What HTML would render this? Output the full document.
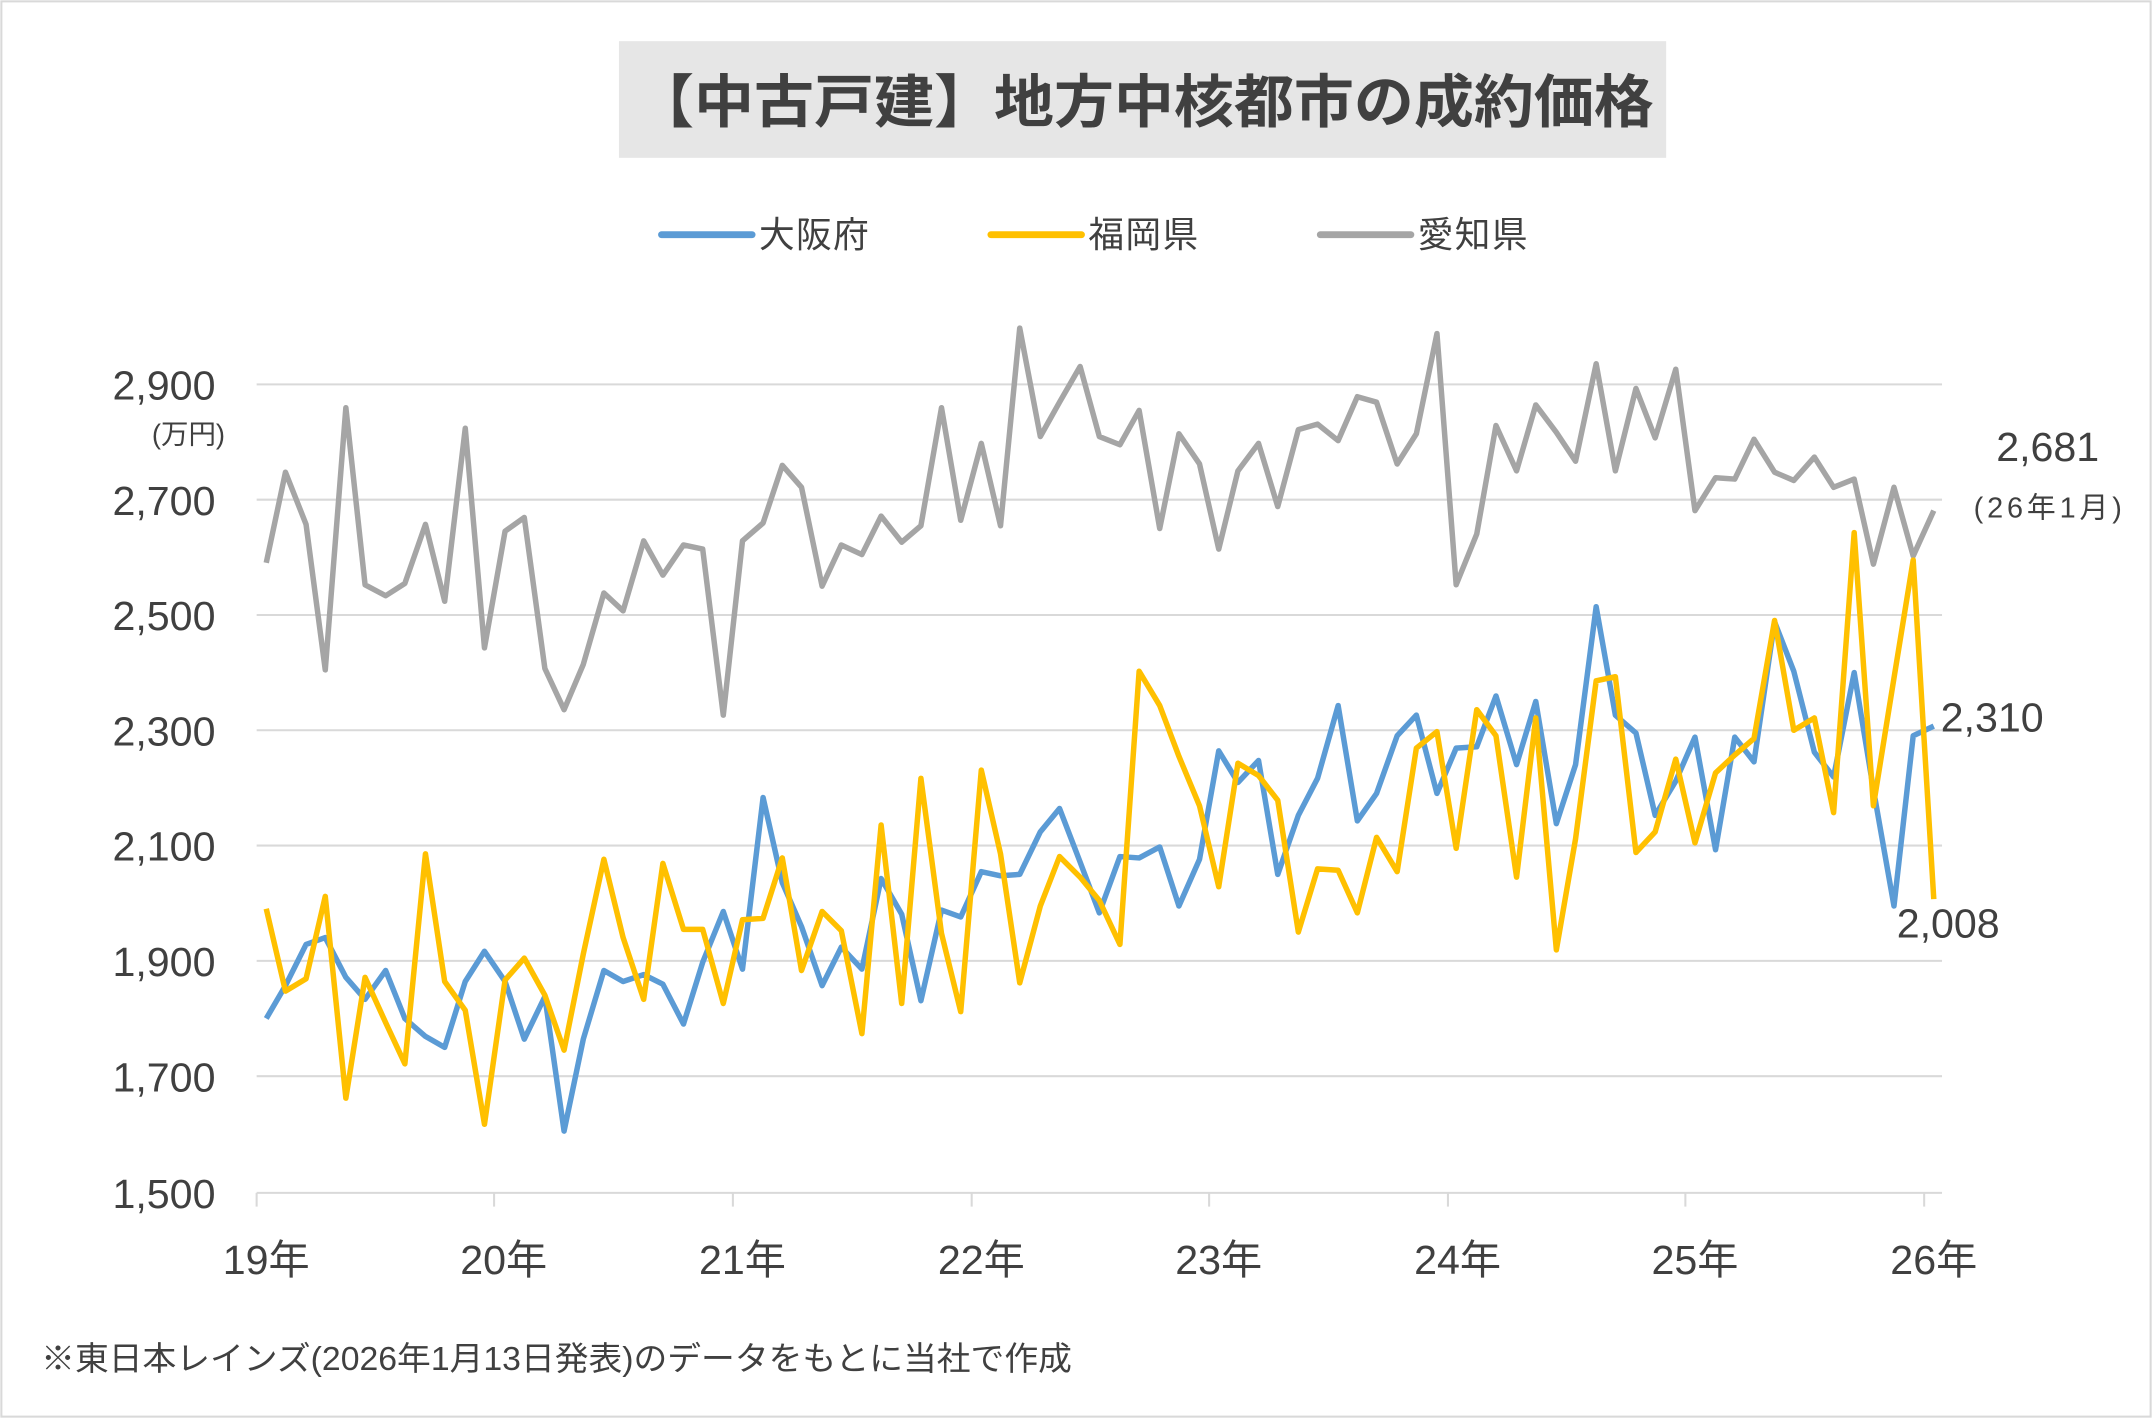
<!DOCTYPE html>
<html><head><meta charset="utf-8"><style>
html,body{margin:0;padding:0;background:#fff}
svg{display:block}
text{font-family:"Liberation Sans","Noto Sans CJK JP",sans-serif}
</style></head><body>
<svg width="2152" height="1418" viewBox="0 0 1568 1033" preserveAspectRatio="none" xmlns="http://www.w3.org/2000/svg">
<rect x="1" y="1" width="1566" height="1031" fill="#fff" stroke="#d9d9d9" stroke-width="1.5"/>
<rect x="451" y="30" width="763" height="85" fill="#e6e6e6"/>
<text x="462" y="89" font-size="42" font-weight="bold" fill="#404040" textLength="743" lengthAdjust="spacingAndGlyphs">【中古戸建】地方中核都市の成約価格</text>
<g font-size="26" fill="#404040">
<line x1="482" y1="171" x2="548" y2="171" stroke="#5b9bd5" stroke-width="5" stroke-linecap="round"/><text x="553" y="180" textLength="80">大阪府</text>
<line x1="722" y1="171" x2="788" y2="171" stroke="#ffc000" stroke-width="5" stroke-linecap="round"/><text x="793" y="180" textLength="80">福岡県</text>
<line x1="962" y1="171" x2="1028" y2="171" stroke="#a5a5a5" stroke-width="5" stroke-linecap="round"/><text x="1033" y="180" textLength="80">愛知県</text>
</g>
<g stroke="#d9d9d9" stroke-width="1.5">
<line x1="187" y1="280" x2="1415" y2="280"/><line x1="187" y1="364" x2="1415" y2="364"/>
<line x1="187" y1="448" x2="1415" y2="448"/><line x1="187" y1="532" x2="1415" y2="532"/>
<line x1="187" y1="616" x2="1415" y2="616"/><line x1="187" y1="700" x2="1415" y2="700"/>
<line x1="187" y1="784" x2="1415" y2="784"/><line x1="187" y1="869" x2="1415" y2="869"/>
<line x1="187" y1="869" x2="187" y2="879"/><line x1="360" y1="869" x2="360" y2="879"/>
<line x1="534" y1="869" x2="534" y2="879"/><line x1="708" y1="869" x2="708" y2="879"/>
<line x1="881" y1="869" x2="881" y2="879"/><line x1="1055" y1="869" x2="1055" y2="879"/>
<line x1="1228" y1="869" x2="1228" y2="879"/><line x1="1402" y1="869" x2="1402" y2="879"/>
</g>
<g font-size="30" fill="#404040" text-anchor="end">
<text x="157" y="291">2,900</text><text x="157" y="375">2,700</text><text x="157" y="459">2,500</text>
<text x="157" y="543">2,300</text><text x="157" y="627">2,100</text><text x="157" y="711">1,900</text>
<text x="157" y="795">1,700</text><text x="157" y="880">1,500</text>
</g>
<text x="164" y="323" font-size="20" fill="#404040" text-anchor="end">(万円)</text>
<g font-size="30" fill="#404040" text-anchor="middle">
<text x="194" y="928">19年</text><text x="367" y="928">20年</text><text x="541" y="928">21年</text>
<text x="715" y="928">22年</text><text x="888" y="928">23年</text><text x="1062" y="928">24年</text>
<text x="1235" y="928">25年</text><text x="1409" y="928">26年</text>
</g>
<polyline fill="none" stroke="#a5a5a5" stroke-width="4" stroke-linejoin="round" points="194,410 208,344 223,382 237,488 252,297 266,426 281,434 295,425 310,382 324,438 339,312 353,472 368,387 382,377 397,487 411,517 425,484 440,432 454,445 469,394 483,419 498,397 512,400 527,521 541,394 556,381 570,339 584,355 599,427 613,397 628,404 642,376 657,395 671,383 686,297 700,379 715,323 729,383 743,239 758,318 772,293 787,267 801,318 816,324 830,299 845,385 859,316 874,338 888,400 902,343 917,323 931,369 946,313 960,309 975,321 989,289 1003,293 1018,338 1032,316 1047,243 1061,426 1076,389 1090,310 1105,343 1119,295 1134,315 1148,336 1163,265 1177,343 1192,283 1206,319 1221,269 1235,372 1250,348 1264,349 1278,320 1293,344 1307,350 1322,333 1336,355 1351,349 1365,411 1380,355 1394,405 1409,372"/>
<polyline fill="none" stroke="#5b9bd5" stroke-width="4" stroke-linejoin="round" points="194,742 208,718 223,688 237,683 252,712 266,728 281,707 295,742 310,755 324,763 339,715 353,693 368,715 382,757 397,726 411,824 425,757 440,707 454,715 469,710 483,717 498,746 512,701 527,664 541,706 556,581 570,643 584,675 599,718 613,690 628,706 642,640 657,666 671,729 686,663 700,668 715,635 729,638 743,637 758,606 772,589 787,628 801,665 816,624 830,625 845,617 859,660 874,626 888,547 902,570 917,554 931,637 946,594 960,567 975,514 989,598 1003,578 1018,536 1032,521 1047,578 1061,545 1076,544 1090,507 1105,557 1119,511 1134,600 1148,557 1163,442 1177,521 1192,534 1206,594 1221,569 1235,537 1250,619 1264,537 1278,555 1293,453 1307,489 1322,548 1336,566 1351,490 1365,575 1380,660 1394,536 1409,529"/>
<polyline fill="none" stroke="#ffc000" stroke-width="4" stroke-linejoin="round" points="194,662 208,722 223,713 237,653 252,800 266,712 281,745 295,775 310,622 324,715 339,736 353,819 368,714 382,698 397,725 411,765 425,695 440,626 454,683 469,728 483,629 498,677 512,677 527,731 541,670 556,669 570,625 584,707 599,664 613,678 628,753 642,601 657,731 671,567 686,680 700,737 715,561 729,622 743,716 758,660 772,624 787,639 801,656 816,688 830,489 845,514 859,551 874,587 888,646 902,556 917,565 931,583 946,679 960,633 975,634 989,665 1003,610 1018,635 1032,545 1047,533 1061,618 1076,517 1090,536 1105,639 1119,523 1134,692 1148,611 1163,496 1177,493 1192,621 1206,606 1221,553 1235,614 1250,563 1264,550 1278,538 1293,452 1307,532 1322,523 1336,592 1351,388 1365,587 1380,494 1394,408 1409,655"/>
<g fill="#404040">
<text x="1492" y="336" font-size="30" text-anchor="middle">2,681</text>
<text x="1492" y="377" font-size="21" text-anchor="middle" textLength="108">(26年1月)</text>
<text x="1414" y="533" font-size="30">2,310</text>
<text x="1382" y="683" font-size="30">2,008</text>
<text x="30" y="998" font-size="24" textLength="751" lengthAdjust="spacingAndGlyphs">※東日本レインズ(2026年1月13日発表)のデータをもとに当社で作成</text>
</g>
</svg>
</body></html>
